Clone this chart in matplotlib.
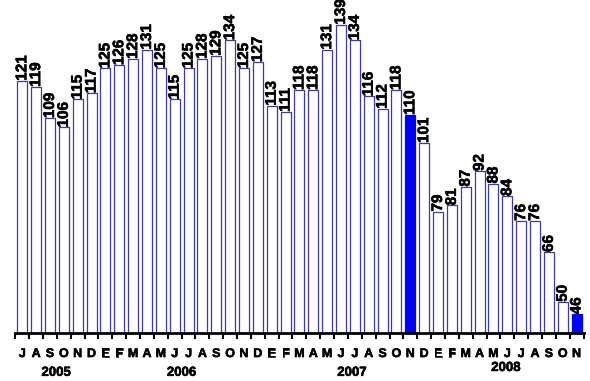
import matplotlib

matplotlib.use('Agg')
import matplotlib.pyplot as plt
import matplotlib.patheffects as pe
import numpy as np

plt.rcParams['font.family'] = ['Liberation Sans', 'DejaVu Sans']

# monthly counts, Jul 2005 - Nov 2008
values = [121, 119, 109, 106, 115, 117,
          125, 126, 128, 131, 125, 115, 125, 128, 129, 134, 125, 127,
          113, 111, 118, 118, 131, 139, 134, 116, 112, 118, 110, 101,
          79, 81, 87, 92, 88, 84, 76, 76, 66, 50, 46]
months = ['J', 'A', 'S', 'O', 'N', 'D',
          'E', 'F', 'M', 'A', 'M', 'J', 'J', 'A', 'S', 'O', 'N', 'D',
          'E', 'F', 'M', 'A', 'M', 'J', 'J', 'A', 'S', 'O', 'N', 'D',
          'E', 'F', 'M', 'A', 'M', 'J', 'J', 'A', 'S', 'O', 'N']
highlight = [28, 40]  # Oct 2007, Nov 2008
years = ['2005', '2006', '2007', '2008']
year_pos = [2.45, 11.5, 23.8, 34.9]
year_y = [-0.123, -0.123, -0.123, -0.108]

# slightly heavier strokes for the bold labels
heavy = [pe.withStroke(linewidth=0.4, foreground='black')]

fig = plt.figure(figsize=(5.9, 3.81), dpi=100)
ax = fig.add_axes([0.026, 0.126, 0.963, 0.85])

x = np.arange(len(values))
faces = ['#0000ff' if i in highlight else 'white' for i in x]
edges = ['#0000ff' if i in highlight else '#3a3aa8' for i in x]
ax.bar(x, values, width=0.72, color=faces, edgecolor=edges, linewidth=0.9)

for i, v in zip(x, values):
    ax.annotate(str(v), (i, v), xytext=(0, 0), textcoords='offset points',
                rotation=90, ha='center', va='bottom', fontsize=11,
                fontweight='bold', annotation_clip=False, path_effects=heavy)

ax.set_xlim(-0.5, len(values) - 0.5)
ax.set_ylim(40, 144)

for s in ['top', 'right', 'left']:
    ax.spines[s].set_visible(False)
ax.spines['bottom'].set_linewidth(2)
ax.set_yticks([])

ax.set_xticks(np.arange(len(values) + 1) - 0.5)
ax.set_xticklabels([])
ax.tick_params(axis='x', direction='out', length=4, width=1.5, color='black')

for i, m in enumerate(months):
    ax.text(i, -0.065, m, transform=ax.get_xaxis_transform(), ha='center',
            va='center', fontsize=9, fontweight='bold', path_effects=heavy)

for y, p, yy in zip(years, year_pos, year_y):
    ax.text(p, yy, y, transform=ax.get_xaxis_transform(), ha='center',
            va='center', fontsize=9.5, fontweight='bold', path_effects=heavy)

fig.savefig('out.png', dpi=100)
